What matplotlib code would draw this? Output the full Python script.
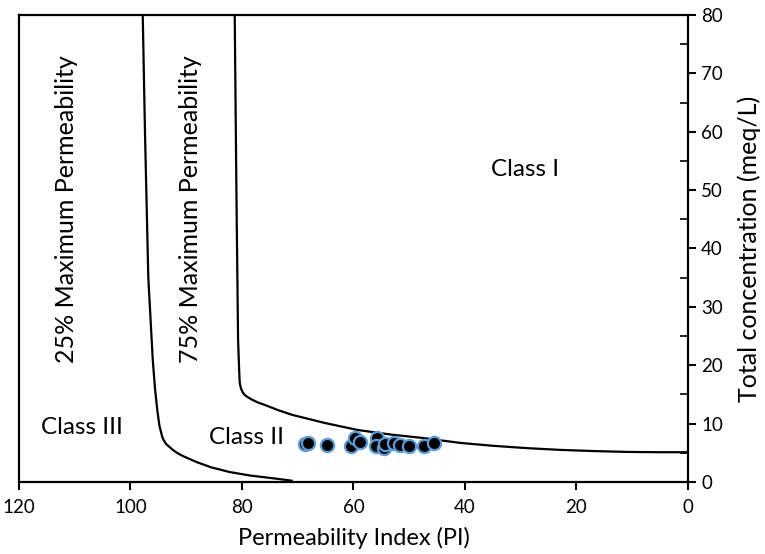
import matplotlib
matplotlib.use("Agg")
import matplotlib.pyplot as plt
from matplotlib.ticker import MultipleLocator

plt.rcParams['font.family'] = ['Lato', 'DejaVu Sans']

# Sample points
pi_values = [68.7, 68.2, 64.8, 60.4, 59.7, 58.8, 55.8, 56.0, 54.5, 54.3,
             52.7, 51.7, 50.0, 47.4, 45.6]
conc_values = [6.5, 6.7, 6.4, 6.2, 7.6, 6.9, 7.6, 6.2, 5.8, 6.5,
               6.7, 6.4, 6.2, 6.2, 6.7]

# 25% maximum permeability boundary
pi_25 = [97.8, 97.4, 96.8, 96.0, 95.6, 95.2, 94.8, 94.5, 94.3, 94.0, 93.6,
         93.0, 92.4, 91.5, 90.5, 88.1, 85.5, 82.2, 78.5, 75.0, 72.5, 70.9]
conc_25 = [80.0, 60.0, 35.0, 20.9, 16.0, 12.4, 9.6, 8.5, 7.7, 7.1, 6.5,
           6.0, 5.5, 4.9, 4.4, 3.4, 2.5, 1.7, 1.1, 0.7, 0.4, 0.2]

# 75% maximum permeability boundary
pi_75 = [81.3, 81.0, 80.7, 80.5, 80.4, 80.3, 80.2, 79.9, 79.5, 78.9, 78.2,
         77.1, 75.9, 73.5, 71.0, 65.1, 59.2, 53.1, 47.7, 40.9, 35.0, 28.9,
         23.0, 17.0, 10.9, 5.0, 0.0]
conc_75 = [80.0, 50.0, 24.4, 19.0, 17.0, 16.5, 16.1, 15.4, 14.9, 14.5, 14.1,
           13.6, 13.2, 12.3, 11.5, 10.1, 8.9, 8.1, 7.55, 6.7, 6.2, 5.8,
           5.5, 5.3, 5.15, 5.1, 5.1]

x_ticks = [120, 100, 80, 60, 40, 20, 0]
y_ticks = [0, 10, 20, 30, 40, 50, 60, 70, 80]

fig = plt.figure(figsize=(7.65, 5.54), dpi=100)
ax = fig.add_axes([0.0248, 0.13, 0.8745, 0.8429])

ax.plot(pi_25, conc_25, color='black', lw=1.6, solid_capstyle='butt',
        solid_joinstyle='round')
ax.plot(pi_75, conc_75, color='black', lw=1.6, solid_capstyle='butt',
        solid_joinstyle='round')
ax.scatter(pi_values, conc_values, s=90, color='black', edgecolors='#5b9bd5',
           linewidths=1.6, zorder=5)

ax.set_xlim(120, 0)
ax.set_ylim(0, 80)
ax.set_xticks(x_ticks)
ax.set_yticks(y_ticks)
ax.yaxis.set_minor_locator(MultipleLocator(5))
ax.yaxis.tick_right()
ax.yaxis.set_label_position('right')
ax.tick_params(axis='both', which='major', direction='out', length=6, width=1.5,
               labelsize=13.5, colors='black')
ax.tick_params(axis='y', which='minor', direction='in', length=6, width=1.2)
ax.tick_params(axis='y', which='both', left=False, right=True)
ax.tick_params(axis='x', pad=6)
for s in ax.spines.values():
    s.set_linewidth(1.6)

ax.set_xlabel('Permeability Index (PI)', fontsize=17, labelpad=8)
ax.set_ylabel('Total concentration (meq/L)', fontsize=18, labelpad=10)

ax.text(111.4, 46.7, '25% Maximum Permeability', rotation=90, ha='center',
        va='center', fontsize=18)
ax.text(89.3, 46.7, '75% Maximum Permeability', rotation=90, ha='center',
        va='center', fontsize=18)
ax.text(29.2, 53.6, 'Class I', ha='center', va='center', fontsize=17.5)
ax.text(79.1, 7.7, 'Class II', ha='center', va='center', fontsize=17.5)
ax.text(108.7, 9.4, 'Class III', ha='center', va='center', fontsize=17.5)

fig.savefig('out.png', dpi=100)
